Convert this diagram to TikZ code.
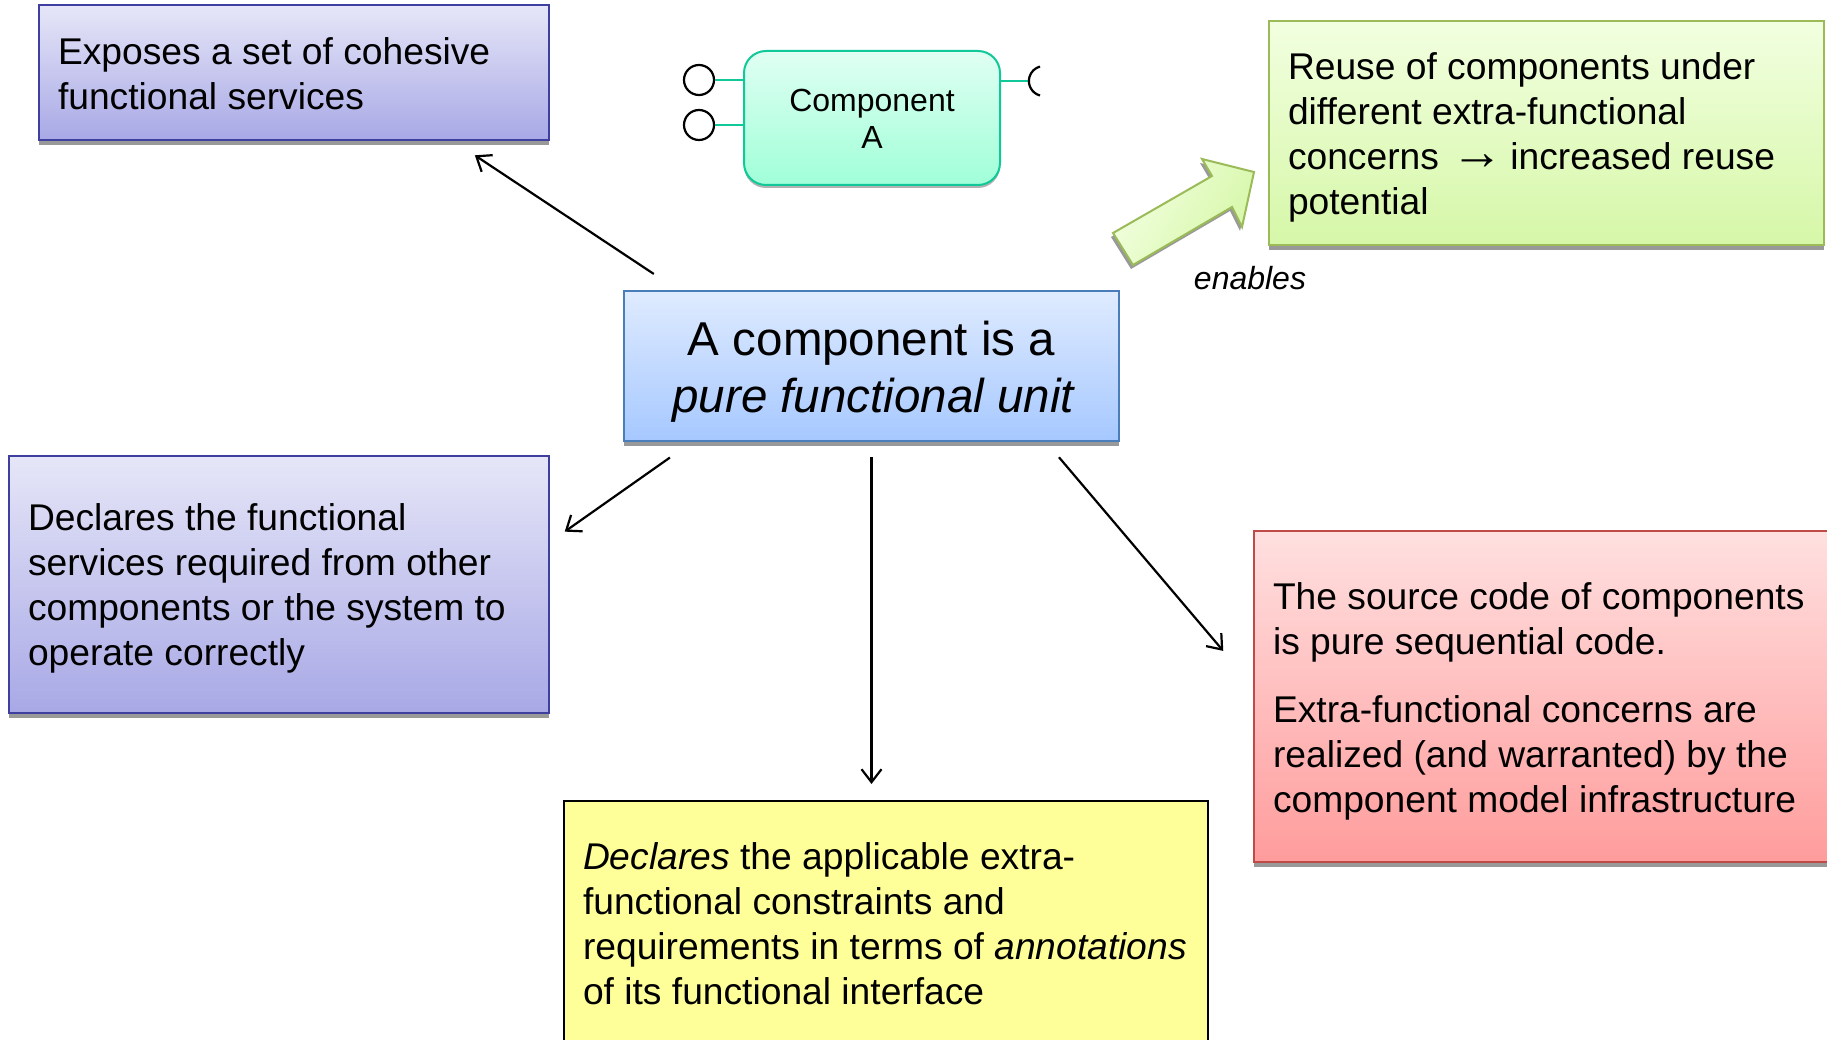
\documentclass[tikz,border=0pt]{standalone}
\usepackage{fontspec}
\setmainfont{Liberation Sans}
\usetikzlibrary{arrows.meta,shadows}
\definecolor{purT}{HTML}{E6E6F8}\definecolor{purB}{HTML}{A8A8E6}\definecolor{purL}{HTML}{3F3F9F}
\definecolor{bluT}{HTML}{DFEBFF}\definecolor{bluB}{HTML}{A6C8FF}\definecolor{bluL}{HTML}{4A7EBB}
\definecolor{grnT}{HTML}{F2FFE0}\definecolor{grnB}{HTML}{D6F7A8}\definecolor{grnL}{HTML}{9BBB59}
\definecolor{redT}{HTML}{FFE0E0}\definecolor{redB}{HTML}{FF9C9C}\definecolor{redL}{HTML}{BE4B48}
\definecolor{cmpT}{HTML}{E0FFF3}\definecolor{cmpB}{HTML}{A0FFD8}\definecolor{cmpL}{HTML}{10C898}
\definecolor{yelF}{HTML}{FFFF99}
\newcommand{\pad}[1]{\rule{0pt}{#1pt}}
\newcommand{\tsp}{\spaceskip=10.35pt\relax}
\newcommand{\csp}{\spaceskip=13.2pt\relax}
\tikzset{x=1pt,y=-1pt,
  boxbase/.style={draw,line width=2pt,anchor=north west,inner ysep=0pt,inner xsep=19pt,align=left,font=\fontsize{37.2}{45}\selectfont},
  tightsp/.style={execute at begin node=\tsp},
  boxshadow/.style={drop shadow={shadow xshift=0pt,shadow yshift=-5pt,opacity=.4,fill=black}},
  purplebox/.style={boxbase,tightsp,boxshadow,draw=purL,top color=purT,bottom color=purB},
  greenbox/.style={boxbase,tightsp,boxshadow,draw=grnL,top color=grnT,bottom color=grnB},
  redbox/.style={boxbase,tightsp,boxshadow,draw=redL,top color=redT,bottom color=redB},
  yellowbox/.style={boxbase,tightsp,draw=black,fill=yelF},
  corebox/.style={boxbase,boxshadow,execute at begin node=\csp,draw=bluL,top color=bluT,bottom color=bluB,align=center,inner xsep=0pt,font=\fontsize{47.5}{57}\selectfont},
  compbox/.style={boxbase,draw=cmpL,top color=cmpT,bottom color=cmpB,align=center,inner xsep=0pt,rounded corners=22pt,font=\fontsize{32}{37}\selectfont,
    drop shadow={shadow xshift=0pt,shadow yshift=-3pt,opacity=.3,fill=black}},
  conn/.style={line width=2.2pt,-{Straight Barb[length=13pt,width=20pt,line width=2.2pt]}},
  port/.style={circle,draw=black,line width=2.2pt,minimum size=30pt,inner sep=0pt,fill=white},
  stub/.style={draw=cmpL,line width=1.6pt}
}
\begin{document}
\begin{tikzpicture}
\useasboundingbox (0,0) rectangle (1827,1040);
\node[purplebox,text width=472pt,minimum height=135pt] (expose) at (38,4.5) {\pad{28}Exposes a set of cohesive\\functional services};
\node[purplebox,text width=502pt,minimum height=257pt] (req) at (8,455) {\pad{35.5}Declares the functional\\services required from other\\components or the system to\\operate correctly};
\node[corebox,text width=495pt,minimum height=150pt] (core) at (623,290) {\pad{46}A component is a\\\hspace*{5pt}\textit{pure functional unit}};
\node[compbox,text width=256pt,minimum height=134pt] (comp) at (743,50) {\pad{25}Component\\A};
\node[greenbox,text width=517pt,minimum height=224pt] (reuse) at (1268,20) {\pad{36}Reuse of components under\\different extra-functional\\concerns\hspace{12.7pt}{\fontsize{52}{45}\selectfont →}\hspace{6.7pt}increased reuse\\potential};
\node[redbox,text width=562pt,minimum height=331pt] (src) at (1253,530) {\pad{37}The source code of components\\is pure sequential code.\\[23pt]Extra-functional concerns are\\realized (and warranted) by the\\component model infrastructure};
\node[yellowbox,text width=606pt,minimum height=246pt] (anno) at (563,800) {\textit{Declares} the applicable extra-\\functional constraints and\\\mbox{requirements in terms of \textit{annotations}}\\of its functional interface};
\node[port] (p1) at (699,80) {};
\node[port] (p2) at (699,125) {};
\coordinate (sock) at (1029,81);
\draw[stub] (p1.east) -- (p1.east -| comp.west);
\draw[stub] (p2.east) -- (p2.east -| comp.west);
\draw[stub] (sock -| comp.east) -- (sock);
\draw[black,line width=2.2pt] (1040,95.5) arc[start angle=105,end angle=255,radius=15];
\draw[draw=grnL,line width=2pt,left color=grnT,right color=grnB,shading angle=60,
  drop shadow={shadow xshift=-2pt,shadow yshift=-4pt,opacity=.4,fill=black}]
  (1113,233) -- (1133,265) -- (1232,207) -- (1242,227) -- (1254,172) -- (1202,159) -- (1212,176) -- cycle;
\node[font=\fontsize{32}{37}\selectfont\itshape] (en) at (1250,278) {enables};
\draw[conn,shorten <=29pt,shorten >=25pt] ([xshift=55pt]core.north west) -- ([xshift=160pt]expose.south);
\draw[conn,shorten <=27pt,shorten >=18pt] ([xshift=69pt]core.south west) -- ([yshift=42.5pt]req.east);
\draw[conn,shorten <=15pt,shorten >=16pt] (core.south) -- (core.south |- anno.north);
\draw[conn,shorten <=20pt,shorten >=46pt] ([xshift=-74pt]core.south east) -- ([yshift=10.5pt]src.west);
\end{tikzpicture}
\end{document}
